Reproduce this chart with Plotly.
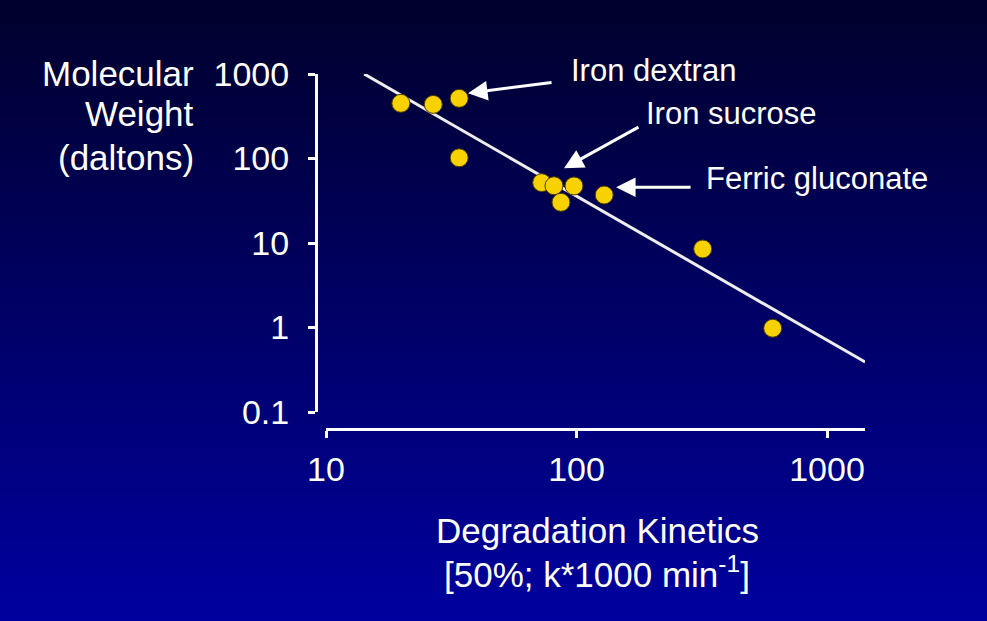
import plotly.graph_objects as go
import numpy as np

# ---- data ----
kinetics = [19.9, 26.8, 34.0, 34.0, 72.6, 81.3, 97.7, 86.7, 129.0, 319.0, 607.0]
mol_weight = [450, 437, 515, 102, 51.8, 47.6, 47.3, 30.3, 37.0, 8.5, 0.98]

fit_x = [14.2, 1420]
fit_y = [1000, 0.39]

x_tick_vals = [10, 100, 1000]
x_tick_text = ["10", "100", "1000"]
y_tick_vals = [0.1, 1, 10, 100, 1000]
y_tick_text = ["0.1", "1", "10", "100", "1000"]

labels = ["Iron dextran", "Iron sucrose", "Ferric gluconate"]
# arrow tips (data values) that the labels point to
label_tip_x = [36.9, 89.1, 143.9]
label_tip_y = [592, 76.6, 45.6]

y_title_lines = ["Molecular", "Weight", "(daltons)"]
x_title_lines = ["Degradation Kinetics", "[50%; k*1000 min<sup>-1</sup>]"]

W, H = 987, 621
FONT = "Liberation Sans, Arial, sans-serif"
WHITE = "#FFFFFF"

def px_x(p):
    return p / W

def px_y(p):
    return (H - p) / H

fig = go.Figure()

fig.add_trace(go.Scatter(
    x=fit_x, y=fit_y, mode="lines",
    line=dict(color="#EEEEEE", width=3),
    hoverinfo="skip", showlegend=False, cliponaxis=False,
))
fig.add_trace(go.Scatter(
    x=kinetics, y=mol_weight, mode="markers",
    marker=dict(size=18, color="#F7D100", line=dict(color="#4A3C00", width=1)),
    showlegend=False, cliponaxis=False,
))

# background gradient (strips)
shapes = []
n = 160
top = np.array([0, 0, 44])
bot = np.array([0, 0, 160])
for i in range(n):
    t = (i + 0.5) / n
    c = top + (bot - top) * t
    shapes.append(dict(
        type="rect", xref="paper", yref="paper",
        x0=0, x1=1, y0=1 - (i + 1) / n - 0.001, y1=1 - i / n,
        fillcolor=f"rgb({int(c[0])},{int(c[1])},{int(c[2])})",
        line=dict(width=0), layer="below",
    ))

annotations = []
# arrows
tails = [(85, -11), (76, -42), (76, 0)]
for tx, ty, (ax, ay) in zip(label_tip_x, label_tip_y, tails):
    annotations.append(dict(
        x=np.log10(tx), y=np.log10(ty), xref="x", yref="y",
        ax=ax, ay=ay, axref="pixel", ayref="pixel",
        text="", showarrow=True, arrowhead=2, arrowsize=1.3,
        arrowwidth=3, arrowcolor=WHITE, standoff=0,
    ))
# label texts
label_pos = [(569, 71), (644, 113), (704, 178)]
for txt, (lx, ly) in zip(labels, label_pos):
    annotations.append(dict(
        x=px_x(lx), y=px_y(ly), xref="paper", yref="paper",
        xanchor="left", yanchor="middle", text=txt, showarrow=False,
        font=dict(family=FONT, size=31, color=WHITE),
    ))
# y title lines (right aligned)
for txt, cy in zip(y_title_lines, [74, 113, 157]):
    annotations.append(dict(
        x=px_x(196), y=px_y(cy), xref="paper", yref="paper",
        xanchor="right", yanchor="middle", text=txt, showarrow=False,
        font=dict(family=FONT, size=35, color=WHITE),
    ))
# x title lines (centered)
for txt, cy in zip(x_title_lines, [530, 572]):
    annotations.append(dict(
        x=px_x(597), y=px_y(cy), xref="paper", yref="paper",
        xanchor="center", yanchor="middle", text=txt, showarrow=False,
        font=dict(family=FONT, size=35, color=WHITE),
    ))

axis_common = dict(
    showgrid=False, zeroline=False, showline=True, linecolor=WHITE, linewidth=3,
    ticks="outside", tickcolor=WHITE, tickwidth=3, ticklen=7,
    tickmode="array",
)

fig.update_layout(
    width=W, height=H,
    margin=dict(l=0, r=0, t=0, b=0, autoexpand=False),
    paper_bgcolor="rgb(0,0,100)", plot_bgcolor="rgba(0,0,0,0)",
    shapes=shapes, annotations=annotations,
    showlegend=False,
    xaxis=dict(
        type="log", range=[1, 3.1517],
        domain=[px_x(326), px_x(865)],
        anchor="free", position=px_y(429),
        tickvals=x_tick_vals, ticktext=x_tick_text,
        tickfont=dict(family=FONT, size=34, color=WHITE),
        ticklabelstandoff=2,
        **axis_common,
    ),
    yaxis=dict(
        type="log", range=[-1, 3],
        domain=[px_y(412), px_y(74)],
        anchor="free", position=px_x(316),
        tickvals=y_tick_vals, ticktext=y_tick_text,
        tickfont=dict(family=FONT, size=34, color=WHITE),
        ticklabelstandoff=12,
        **axis_common,
    ),
)

fig.write_html("out.html")
